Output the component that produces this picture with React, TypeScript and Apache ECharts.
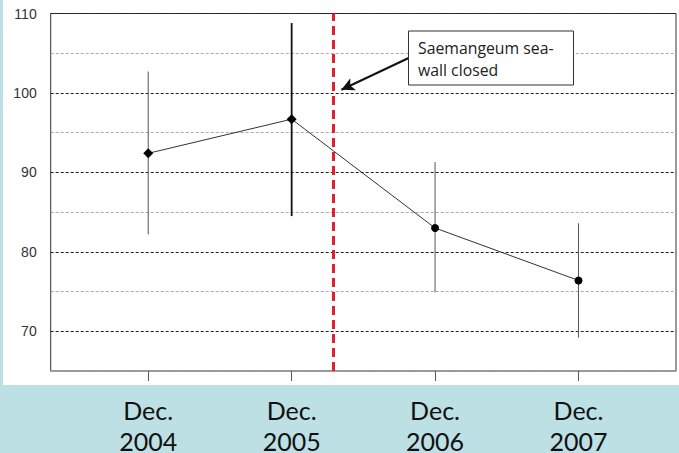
import React, { useEffect, useRef } from "react";
import * as echarts from "echarts";

const categories = ["Dec.\n2004", "Dec.\n2005", "Dec.\n2006", "Dec.\n2007"];
const meanValues = [92.4, 96.7, 83.0, 76.4];
const errLow = [82.2, 84.5, 74.9, 69.2];
const errHigh = [102.7, 108.8, 91.3, 83.6];
const yTickLabels = [70, 80, 90, 100, 110];
const sealWallClosedX = 1.293;
const annotationText = ["Saemangeum sea-", "wall closed"];
const arrowFrom = [1.816, 104.4];
const arrowTo = [1.347, 100.4];

export default function App() {
  const ref = useRef<HTMLDivElement>(null);
  useEffect(() => {
    document.body.style.margin = "0";
    const chart = echarts.init(ref.current!, null, { renderer: "svg" });
    const idx = categories.map((_, i) => i);
    chart.setOption({
      animation: false,
      backgroundColor: "#bce0e3",
      graphic: [
        {
          type: "rect",
          z: -100,
          silent: true,
          shape: { x: 3, y: 0, width: 676, height: 385 },
          style: { fill: "#ffffff" },
        },
        {
          type: "rect",
          z: 100,
          shape: { x: 408.5, y: 31, width: 165, height: 54 },
          style: { fill: "#ffffff", stroke: "#333", lineWidth: 1 },
        },
        {
          type: "text",
          z: 101,
          x: 418,
          y: 36.5,
          style: {
            text: annotationText.join("\n"),
            fontFamily: "Open Sans",
            fontSize: 15.8,
            lineHeight: 22,
            fill: "#222",
          },
        },
      ],
      grid: {
        left: 50.7,
        right: 3,
        top: 13.5,
        bottom: 82,
        outerBoundsMode: "none",
        containLabel: false,
        show: true,
        borderColor: "#333",
        borderWidth: 1,
        backgroundColor: "transparent",
      },
      xAxis: {
        type: "value",
        min: -0.68,
        max: 3.68,
        splitLine: { show: false },
        axisLine: { show: true, onZero: false, lineStyle: { color: "#999", width: 1.5 } },
        axisTick: {
          show: true,
          customValues: idx,
          length: 10,
          lineStyle: { color: "#555", width: 1 },
        },
        axisLabel: {
          show: true,
          customValues: idx,
          formatter: (v: number) => categories[Math.round(v)] ?? "",
          margin: 23,
          fontFamily: "Lato",
          fontSize: 25,
          lineHeight: 31,
          color: "#111",
        },
      },
      yAxis: {
        type: "value",
        min: 65,
        max: 110,
        interval: 5,
        axisLine: { show: false },
        axisTick: { show: false },
        axisLabel: {
          formatter: (v: number) => (yTickLabels.includes(v) ? String(v) : ""),
          margin: 14,
          fontFamily: "Liberation Sans",
          fontSize: 14,
          color: "#333",
        },
        splitLine: {
          show: true,
          lineStyle: { color: ["#aaa", "#222"], type: [3, 2], width: 1 },
        },
      },
      series: [
        {
          type: "custom",
          z: 3,
          data: idx.map((i) => [i, errLow[i], errHigh[i]]),
          renderItem: (params: any, api: any) => {
            const x = api.value(0);
            const p1 = api.coord([x, api.value(1)]);
            const p2 = api.coord([x, api.value(2)]);
            const bold = params.dataIndex === 1;
            return {
              type: "line",
              shape: { x1: p1[0], y1: p1[1], x2: p2[0], y2: p2[1] },
              style: { stroke: bold ? "#111" : "#555", lineWidth: bold ? 1.8 : 1 },
            };
          },
          markLine: {
            silent: true,
            animation: false,
            label: { show: false },
            lineStyle: { color: "#111", width: 2, type: "solid" },
            data: [
              [
                { coord: arrowFrom, symbol: "none" },
                { coord: arrowTo, symbol: "arrow", symbolSize: [10, 13] },
              ],
            ],
          },
        },
        {
          type: "line",
          z: 4,
          data: idx.map((i) => ({
            value: [i, meanValues[i]],
            symbol: i < 2 ? "diamond" : "circle",
            symbolSize: i < 2 ? 10 : 8,
          })),
          lineStyle: { color: "#333", width: 1 },
          itemStyle: { color: "#000" },
          markLine: {
            silent: true,
            symbol: "none",
            label: { show: false },
            lineStyle: { color: "#e02030", width: 3, type: [9, 5] },
            data: [{ xAxis: sealWallClosedX }],
          },
        },
      ],
    });
    return () => chart.dispose();
  }, []);
  return <div ref={ref} style={{ width: 679, height: 453 }} />;
}
